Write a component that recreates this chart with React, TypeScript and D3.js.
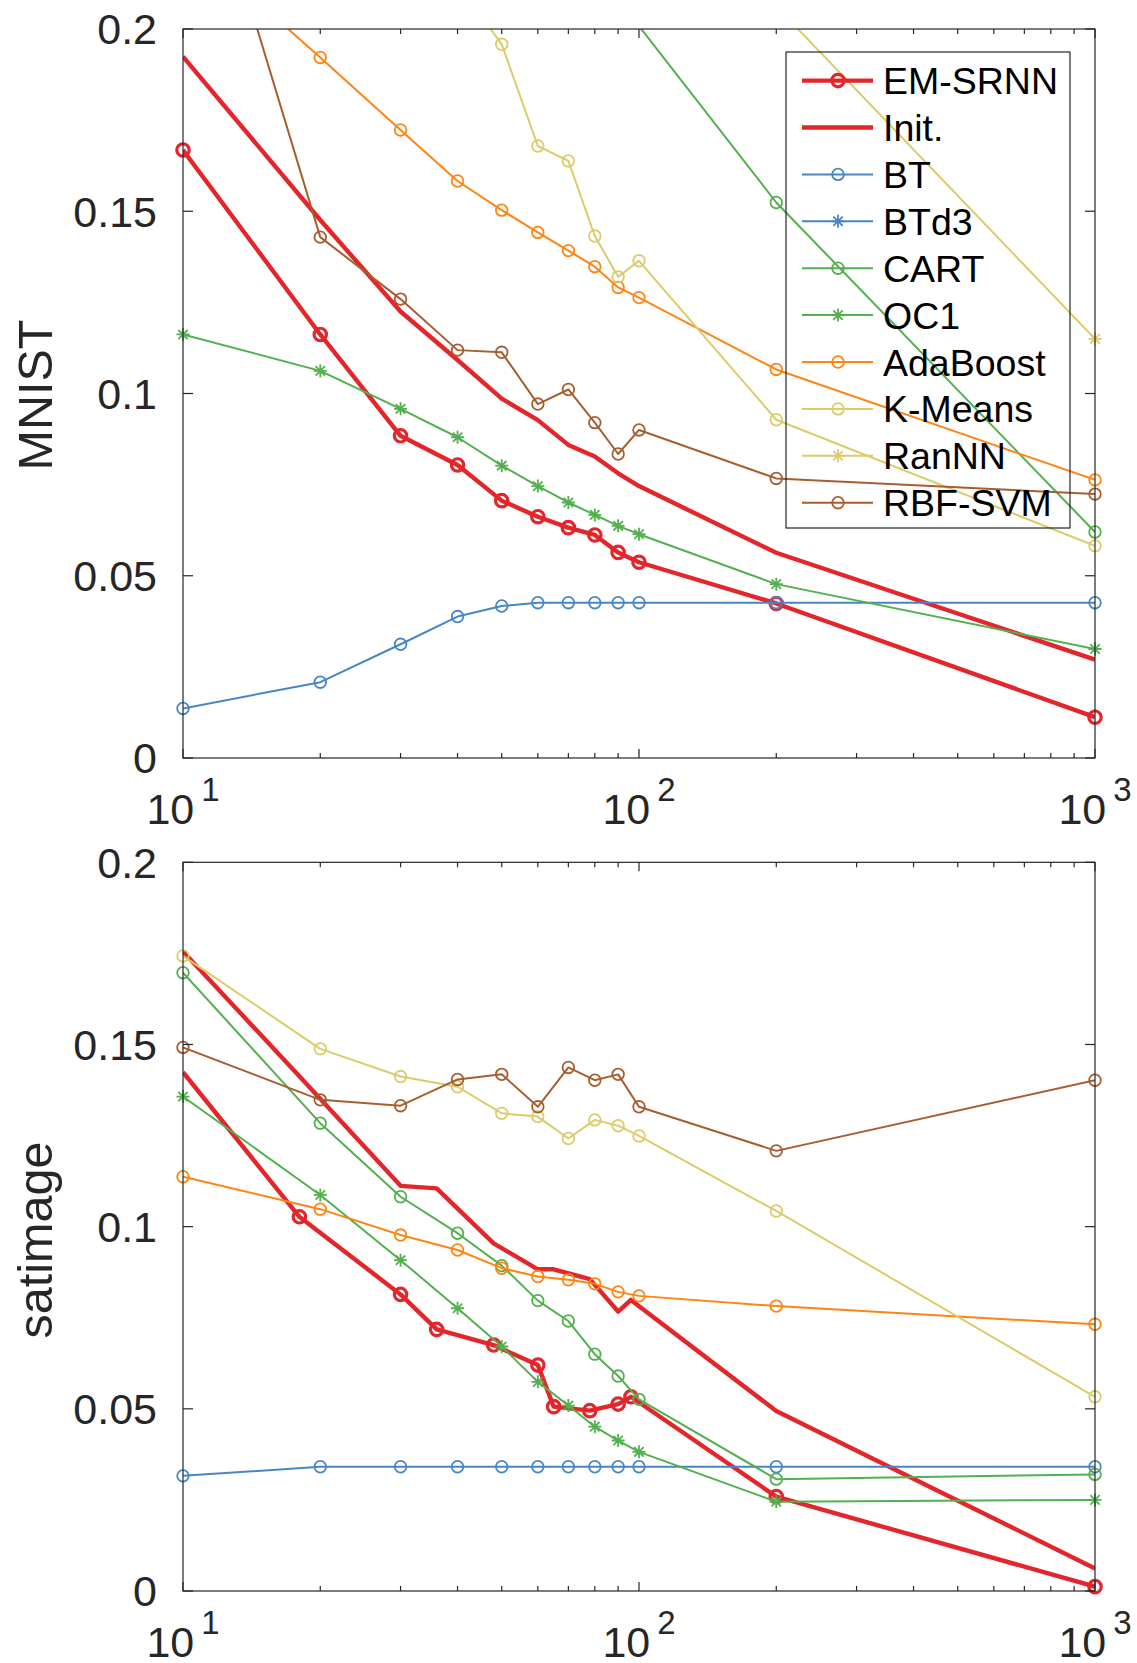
import React from 'react';
import * as d3 from 'd3';

// ---------- data ----------
const sizes = [10, 20, 30, 40, 50, 60, 70, 80, 90, 100, 200, 1000];
const sizesSatProposed = [10, 18, 30, 36, 48, 60, 65, 78, 90, 96, 200, 1000];

const seriesNames = ['EM-SRNN', 'Init.', 'BT', 'BTd3', 'CART', 'OC1', 'AdaBoost', 'K-Means', 'RanNN', 'RBF-SVM'];

// MNIST (top panel)
const emsrnnMnist = [0.1668, 0.1162, 0.0884, 0.0804, 0.0706, 0.0662, 0.0632, 0.0612, 0.0564, 0.0537, 0.0424, 0.0112];
const initMnist = [0.1924, 0.1476, 0.1225, 0.1092, 0.0986, 0.0927, 0.0859, 0.0827, 0.0781, 0.0746, 0.0563, 0.027];
const btMnist = [0.0136, 0.0208, 0.0312, 0.0388, 0.0417, 0.0426, 0.0426, 0.0426, 0.0426, 0.0426, 0.0426, 0.0426];
const btd3Mnist: (number | null)[] = [null, null, null, null, null, null, null, null, null, null, null, null];
const cartMnist = [null, null, null, null, null, null, null, null, null, 0.2008, 0.1524, 0.062];
const oc1Mnist = [0.1162, 0.1062, 0.0958, 0.088, 0.0802, 0.0746, 0.0701, 0.0667, 0.0637, 0.0614, 0.0477, 0.0299];
const adaMnist = [0.2256, 0.1922, 0.1723, 0.1583, 0.1503, 0.1442, 0.1392, 0.1348, 0.1291, 0.1263, 0.1066, 0.0763];
const kmeansMnist = [null, null, null, 0.2125, 0.1958, 0.1679, 0.1638, 0.1432, 0.132, 0.1364, 0.0928, 0.0582];
const rannnMnist = [null, null, null, null, null, null, null, null, null, null, 0.2062, 0.115];
const rbfMnist = [0.2673, 0.1429, 0.1259, 0.1119, 0.1113, 0.0971, 0.1011, 0.092, 0.0834, 0.09, 0.0767, 0.0724];

// satimage (bottom panel)
const emsrnnSat = [0.1424, 0.1027, 0.0814, 0.0718, 0.0675, 0.062, 0.0506, 0.0495, 0.0513, 0.0533, 0.0259, 0.0012];
const emsrnnSatMarked = [false, true, true, true, true, true, true, true, true, true, true, true];
const initSat = [0.1755, 0.1413, 0.1112, 0.1105, 0.0954, 0.0883, 0.0883, 0.0856, 0.0767, 0.0799, 0.0494, 0.0062];
const btSat = [0.0316, 0.0341, 0.0341, 0.0341, 0.0341, 0.0341, 0.0341, 0.0341, 0.0341, 0.0341, 0.0341, 0.0341];
const btd3Sat: (number | null)[] = [null, null, null, null, null, null, null, null, null, null, null, null];
const cartSat = [0.1697, 0.1284, 0.1082, 0.0982, 0.0893, 0.0797, 0.0741, 0.065, 0.059, 0.0526, 0.0307, 0.032];
const oc1Sat = [0.1357, 0.1087, 0.0908, 0.0776, 0.0671, 0.0574, 0.0509, 0.0451, 0.0413, 0.0382, 0.0245, 0.025];
const adaSat = [0.1137, 0.1048, 0.0977, 0.0936, 0.0886, 0.0863, 0.0854, 0.0843, 0.0821, 0.081, 0.0782, 0.0732];
const kmeansSat = [0.1743, 0.1488, 0.1412, 0.1384, 0.1311, 0.1302, 0.1242, 0.1293, 0.1277, 0.1249, 0.1043, 0.0533];
const rannnSat: (number | null)[] = [null, null, null, null, null, null, null, null, null, null, null, null];
const rbfSat = [0.1492, 0.1348, 0.1332, 0.1404, 0.1418, 0.1329, 0.1437, 0.1402, 0.1418, 0.1329, 0.1208, 0.1402];

const yTicks = [0, 0.05, 0.1, 0.15, 0.2];
const yTickLabels = ['0', '0.05', '0.1', '0.15', '0.2'];
const xMajor = [10, 100, 1000];
const xMajorExp = ['1', '2', '3'];

// ---------- styles ----------
const RED = '#e3262b';
const BLUE = '#4686c6';
const GREEN = '#52b04e';
const ORANGE = '#ff8412';
const YELLOW = '#dccb6a';
const BROWN = '#a85d2f';
const FONT = "'Liberation Sans', Arial, Helvetica, sans-serif";

type Style = { color: string; width: number; marker: 'o' | '*' | null; r: number; msw: number };
const styles: Record<string, Style> = {
  'EM-SRNN': { color: RED, width: 4.4, marker: 'o', r: 6.2, msw: 3.2 },
  'Init.': { color: RED, width: 4.4, marker: null, r: 0, msw: 0 },
  BT: { color: BLUE, width: 2, marker: 'o', r: 5.8, msw: 1.8 },
  BTd3: { color: BLUE, width: 2, marker: '*', r: 6.5, msw: 1.8 },
  CART: { color: GREEN, width: 2, marker: 'o', r: 5.8, msw: 1.8 },
  OC1: { color: GREEN, width: 2, marker: '*', r: 6.5, msw: 1.8 },
  AdaBoost: { color: ORANGE, width: 2, marker: 'o', r: 5.8, msw: 1.8 },
  'K-Means': { color: YELLOW, width: 2, marker: 'o', r: 5.8, msw: 1.8 },
  RanNN: { color: YELLOW, width: 2, marker: '*', r: 6.5, msw: 1.8 },
  'RBF-SVM': { color: BROWN, width: 2, marker: 'o', r: 5.8, msw: 1.8 },
};

type Series = { name: string; xs: number[]; ys: (number | null)[]; marked?: boolean[] };

const topSeries: Series[] = [
  { name: 'EM-SRNN', xs: sizes, ys: emsrnnMnist },
  { name: 'Init.', xs: sizes, ys: initMnist },
  { name: 'BT', xs: sizes, ys: btMnist },
  { name: 'BTd3', xs: sizes, ys: btd3Mnist },
  { name: 'CART', xs: sizes, ys: cartMnist },
  { name: 'OC1', xs: sizes, ys: oc1Mnist },
  { name: 'AdaBoost', xs: sizes, ys: adaMnist },
  { name: 'K-Means', xs: sizes, ys: kmeansMnist },
  { name: 'RanNN', xs: sizes, ys: rannnMnist },
  { name: 'RBF-SVM', xs: sizes, ys: rbfMnist },
];

const bottomSeries: Series[] = [
  { name: 'EM-SRNN', xs: sizesSatProposed, ys: emsrnnSat, marked: emsrnnSatMarked },
  { name: 'Init.', xs: sizesSatProposed, ys: initSat },
  { name: 'BT', xs: sizes, ys: btSat },
  { name: 'BTd3', xs: sizes, ys: btd3Sat },
  { name: 'CART', xs: sizes, ys: cartSat },
  { name: 'OC1', xs: sizes, ys: oc1Sat },
  { name: 'AdaBoost', xs: sizes, ys: adaSat },
  { name: 'K-Means', xs: sizes, ys: kmeansSat },
  { name: 'RanNN', xs: sizes, ys: rannnSat },
  { name: 'RBF-SVM', xs: sizes, ys: rbfSat },
];

// ---------- layout ----------
const W = 1137;
const H = 1663;
const X0 = 183;
const X1 = 1095;

function Marker({ type, x, y, color, r, sw }: { type: 'o' | '*'; x: number; y: number; color: string; r: number; sw: number }) {
  if (type === 'o') {
    return <circle cx={x} cy={y} r={r} fill="none" stroke={color} strokeWidth={sw} />;
  }
  const d = r * 0.72;
  const p = `M${x - r},${y}H${x + r}M${x},${y - r}V${y + r}M${x - d},${y - d}L${x + d},${y + d}M${x - d},${y + d}L${x + d},${y - d}`;
  return <path d={p} fill="none" stroke={color} strokeWidth={sw} />;
}

function Panel({ id, top, bottom, series, label, labelY }: { id: string; top: number; bottom: number; series: Series[]; label: string; labelY: number }) {
  const x = d3.scaleLog().domain([10, 1000]).range([X0, X1]);
  const y = d3.scaleLinear().domain([0, 0.2]).range([bottom, top]);
  const xt = x.ticks();
  const axisColor = '#262626';
  return (
    <g>
      <defs>
        <clipPath id={id}>
          <rect x={X0} y={top} width={X1 - X0} height={bottom - top} />
        </clipPath>
      </defs>
      {series.map((s) => {
        const st = styles[s.name];
        const pts = s.xs.map((xv, i) => ({ xv, yv: s.ys[i], m: s.marked ? s.marked[i] : true }));
        const line = d3
          .line<{ xv: number; yv: number | null }>()
          .defined((d) => d.yv != null)
          .x((d) => x(d.xv))
          .y((d) => y(d.yv as number));
        const path = line(pts) || '';
        return (
          <g key={s.name}>
            <path d={path} fill="none" stroke={st.color} strokeWidth={st.width} strokeLinejoin="round" clipPath={`url(#${id})`} />
            {st.marker &&
              pts
                .filter((p) => p.yv != null && (p.yv as number) <= 0.2 && (p.yv as number) >= 0 && p.m)
                .map((p, i) => (
                  <Marker key={i} type={st.marker as 'o' | '*'} x={x(p.xv)} y={y(p.yv as number)} color={st.color} r={st.r} sw={st.msw} />
                ))}
          </g>
        );
      })}
      <rect x={X0} y={top} width={X1 - X0} height={bottom - top} fill="none" stroke={axisColor} strokeWidth={1.2} />
      {xt.map((t, i) => {
        const major = Math.abs(Math.log10(t) - Math.round(Math.log10(t))) < 1e-9;
        const len = major ? 9 : 5;
        const px = x(t);
        return (
          <g key={i}>
            <line x1={px} x2={px} y1={bottom} y2={bottom - len} stroke={axisColor} strokeWidth={1.2} />
            <line x1={px} x2={px} y1={top} y2={top + len} stroke={axisColor} strokeWidth={1.2} />
          </g>
        );
      })}
      {xMajor.map((t, i) => (
        <text key={i} x={x(t)} y={bottom + 66} textAnchor="middle" fontFamily={FONT} fontSize={43} fill="#262626">
          <tspan>10</tspan>
          <tspan dx={7} dy={-23} fontSize={33}>
            {xMajorExp[i]}
          </tspan>
        </text>
      ))}
      {yTicks.map((t, i) => (
        <g key={i}>
          <line x1={X0} x2={X0 + 10} y1={y(t)} y2={y(t)} stroke={axisColor} strokeWidth={1.2} />
          <line x1={X1} x2={X1 - 10} y1={y(t)} y2={y(t)} stroke={axisColor} strokeWidth={1.2} />
          <text x={157} y={y(t)} dy="0.36em" textAnchor="end" fontFamily={FONT} fontSize={43} fill="#262626">
            {yTickLabels[i]}
          </text>
        </g>
      ))}
      <text transform={`translate(52, ${labelY}) rotate(-90)`} textAnchor="middle" fontFamily={FONT} fontSize={48.5} fill="#262626">
        {label}
      </text>
    </g>
  );
}

function Legend() {
  const bx = 786;
  const by = 52;
  const bw = 284;
  const bh = 476;
  const row0 = 80.6;
  const step = 46.9;
  return (
    <g>
      <rect x={bx} y={by} width={bw} height={bh} fill="none" stroke="#262626" strokeWidth={1.2} />
      {seriesNames.map((name, i) => {
        const st = styles[name];
        const ry = row0 + i * step;
        return (
          <g key={name}>
            <line x1={802} x2={873} y1={ry} y2={ry} stroke={st.color} strokeWidth={st.width} />
            {st.marker && <Marker type={st.marker} x={838} y={ry} color={st.color} r={st.r} sw={st.msw} />}
            <text x={883} y={ry} dy="0.36em" fontFamily={FONT} fontSize={37.5} fill="#000">
              {name}
            </text>
          </g>
        );
      })}
    </g>
  );
}

export default function App() {
  return (
    <svg width={W} height={H} style={{ position: 'absolute', left: 0, top: 0, background: '#fff' }} xmlns="http://www.w3.org/2000/svg">
      <rect x={0} y={0} width={W} height={H} fill="#fff" />
      <Panel id="clipTop" top={29} bottom={758} series={topSeries} label="MNIST" labelY={395} />
      <Panel id="clipBottom" top={862.3} bottom={1591} series={bottomSeries} label="satimage" labelY={1240} />
      <Legend />
    </svg>
  );
}
